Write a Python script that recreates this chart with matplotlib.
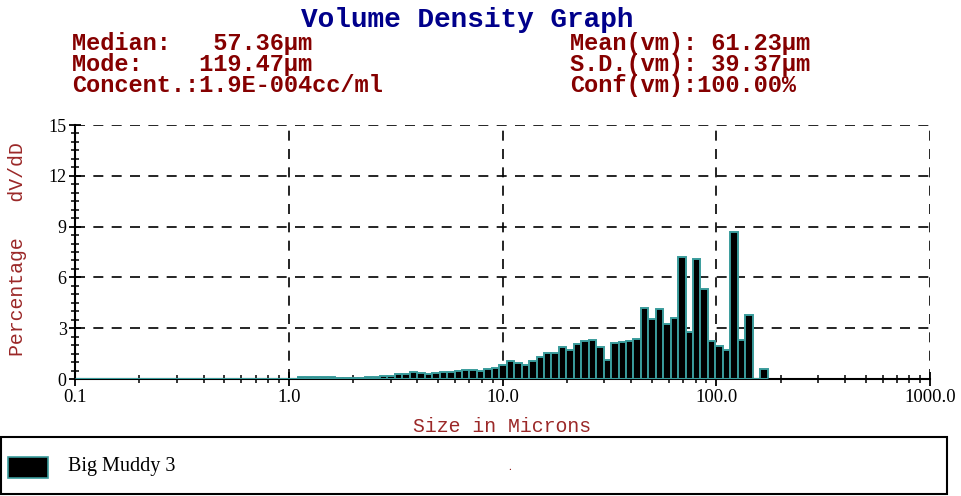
import numpy as np
import matplotlib
matplotlib.use("Agg")
import matplotlib.pyplot as plt
from matplotlib.patches import Rectangle
from matplotlib.ticker import FixedLocator, LogLocator, NullFormatter, MultipleLocator

# channel edges (microns) and volume % per channel
edges = [1.105, 1.197, 1.298, 1.406, 1.524, 1.651, 1.789, 1.939, 2.101, 2.276,
         2.467, 2.673, 2.896, 3.138, 3.401, 3.685, 3.993, 4.327, 4.688, 5.080,
         5.505, 5.965, 6.464, 7.004, 7.590, 8.224, 8.912, 9.657, 10.46, 11.34,
         12.29, 13.31, 14.43, 15.63, 16.94, 18.36, 19.89, 21.55, 23.36, 25.31,
         27.42, 29.72, 32.20, 34.89, 37.81, 40.97, 44.40, 48.11, 52.13, 56.49,
         61.21, 66.33, 71.87, 77.88, 84.39, 91.45, 99.09, 107.4, 116.4, 126.1,
         136.6, 148.0, 160.4, 173.8]
volume = [0.12, 0.12, 0.12, 0.11, 0.10, 0.08, 0.08, 0.08, 0.08, 0.10,
          0.12, 0.15, 0.20, 0.30, 0.30, 0.39, 0.33, 0.30, 0.37, 0.41,
          0.41, 0.45, 0.51, 0.51, 0.47, 0.61, 0.63, 0.81, 1.06, 0.93,
          0.83, 1.04, 1.28, 1.52, 1.56, 1.87, 1.73, 2.05, 2.24, 2.32,
          1.87, 1.10, 2.13, 2.19, 2.22, 2.38, 4.21, 3.52, 4.15, 3.23,
          3.58, 7.19, 2.76, 7.11, 5.30, 2.24, 1.95, 1.73, 8.70, 2.30,
          3.78, 0.0, 0.59]

x_ticks = [0.1, 1.0, 10.0, 100.0, 1000.0]
y_ticks = [0, 3, 6, 9, 12, 15]

title = "Volume Density Graph"
stats_left = ["Median:   57.36\u00b5m", "Mode:    119.47\u00b5m", "Concent.:1.9E-004cc/ml"]
stats_right = ["Mean(vm): 61.23\u00b5m", "S.D.(vm): 39.37\u00b5m", "Conf(vm):100.00%"]
sample_name = "Big Muddy 3"

teal = "#3a9c9c"
red_lbl = "#9b2828"
red_stat = "#850000"
W, H = 961, 496

fig = plt.figure(figsize=(W / 100, H / 100), dpi=100)
ax = fig.add_axes([75 / W, (H - 379) / H, 855 / W, 254 / H])

e = np.array(edges)
ax.bar(e[:-1], volume, width=np.diff(e), align="edge", color="black",
       edgecolor=teal, linewidth=1.4, zorder=2)
ax.hlines(0, x_ticks[0], edges[-1], color=teal, linewidth=2.2, zorder=3)

ax.set_xscale("log")
ax.set_xlim(x_ticks[0], x_ticks[-1])
ax.set_ylim(y_ticks[0], y_ticks[-1])
ax.set_axisbelow(True)

ax.xaxis.set_major_locator(FixedLocator(x_ticks))
ax.set_xticklabels(["%.1f" % v for v in x_ticks])
ax.xaxis.set_minor_locator(LogLocator(base=10, subs=range(2, 10)))
ax.xaxis.set_minor_formatter(NullFormatter())
ax.yaxis.set_major_locator(FixedLocator(y_ticks))
ax.yaxis.set_minor_locator(MultipleLocator(0.5))

for lbl in ax.get_xticklabels():
    lbl.set_family("Liberation Serif")
    lbl.set_fontsize(13.5)
for lbl in ax.get_yticklabels():
    lbl.set_family("Liberation Serif")
    lbl.set_fontsize(13)

ax.tick_params(axis="both", which="major", direction="inout", length=8, width=1.3, pad=2)
ax.tick_params(axis="both", which="minor", direction="inout", length=6, width=1.1)
ax.tick_params(axis="x", which="major", length=10, pad=2.5)

ax.grid(True, which="major", color="black", linestyle=(0, (6, 5)), linewidth=1.2)
for s in ["top", "right"]:
    ax.spines[s].set_visible(False)
for s in ["left", "bottom"]:
    ax.spines[s].set_linewidth(1.5)
    ax.spines[s].set_color("black")

# labels
fig.text(18 / W, (H - 249) / H, "Percentage   dV/dD", rotation=90, ha="center", va="center",
         family="Liberation Mono", fontsize=14.3, color=red_lbl)
fig.text(502.5 / W, (H - 427) / H, "Size in Microns", ha="center", va="center",
         family="Liberation Mono", fontsize=14.3, color=red_lbl)

# header
fig.text(467.5 / W, (H - 27) / H, title, ha="center", va="baseline",
         family="Liberation Mono", fontweight="bold", fontsize=20, color="#00008b")
for i, (l, r) in enumerate(zip(stats_left, stats_right)):
    yb = (H - (50 + 21 * i)) / H
    fig.text(72 / W, yb, l, ha="left", va="baseline", family="Liberation Mono",
             fontweight="bold", fontsize=17, color=red_stat)
    fig.text(570 / W, yb, r, ha="left", va="baseline", family="Liberation Mono",
             fontweight="bold", fontsize=17, color=red_stat)

# legend box
fig.patches.append(Rectangle((1 / W, 2 / H), 946 / W, 57 / H, transform=fig.transFigure,
                             fill=False, edgecolor="black", linewidth=1.5))
fig.patches.append(Rectangle((8 / W, (H - 478) / H), 40 / W, 21 / H, transform=fig.transFigure,
                             facecolor="black", edgecolor=teal, linewidth=1.2))
fig.text(68 / W, (H - 467) / H, sample_name, ha="left", va="center",
         family="Liberation Serif", fontsize=14.5, color="black")
fig.text(510 / W, (H - 470) / H, ".", ha="center", va="baseline",
         family="Liberation Serif", fontsize=8, color=red_stat)

fig.savefig("out.png", dpi=100)
